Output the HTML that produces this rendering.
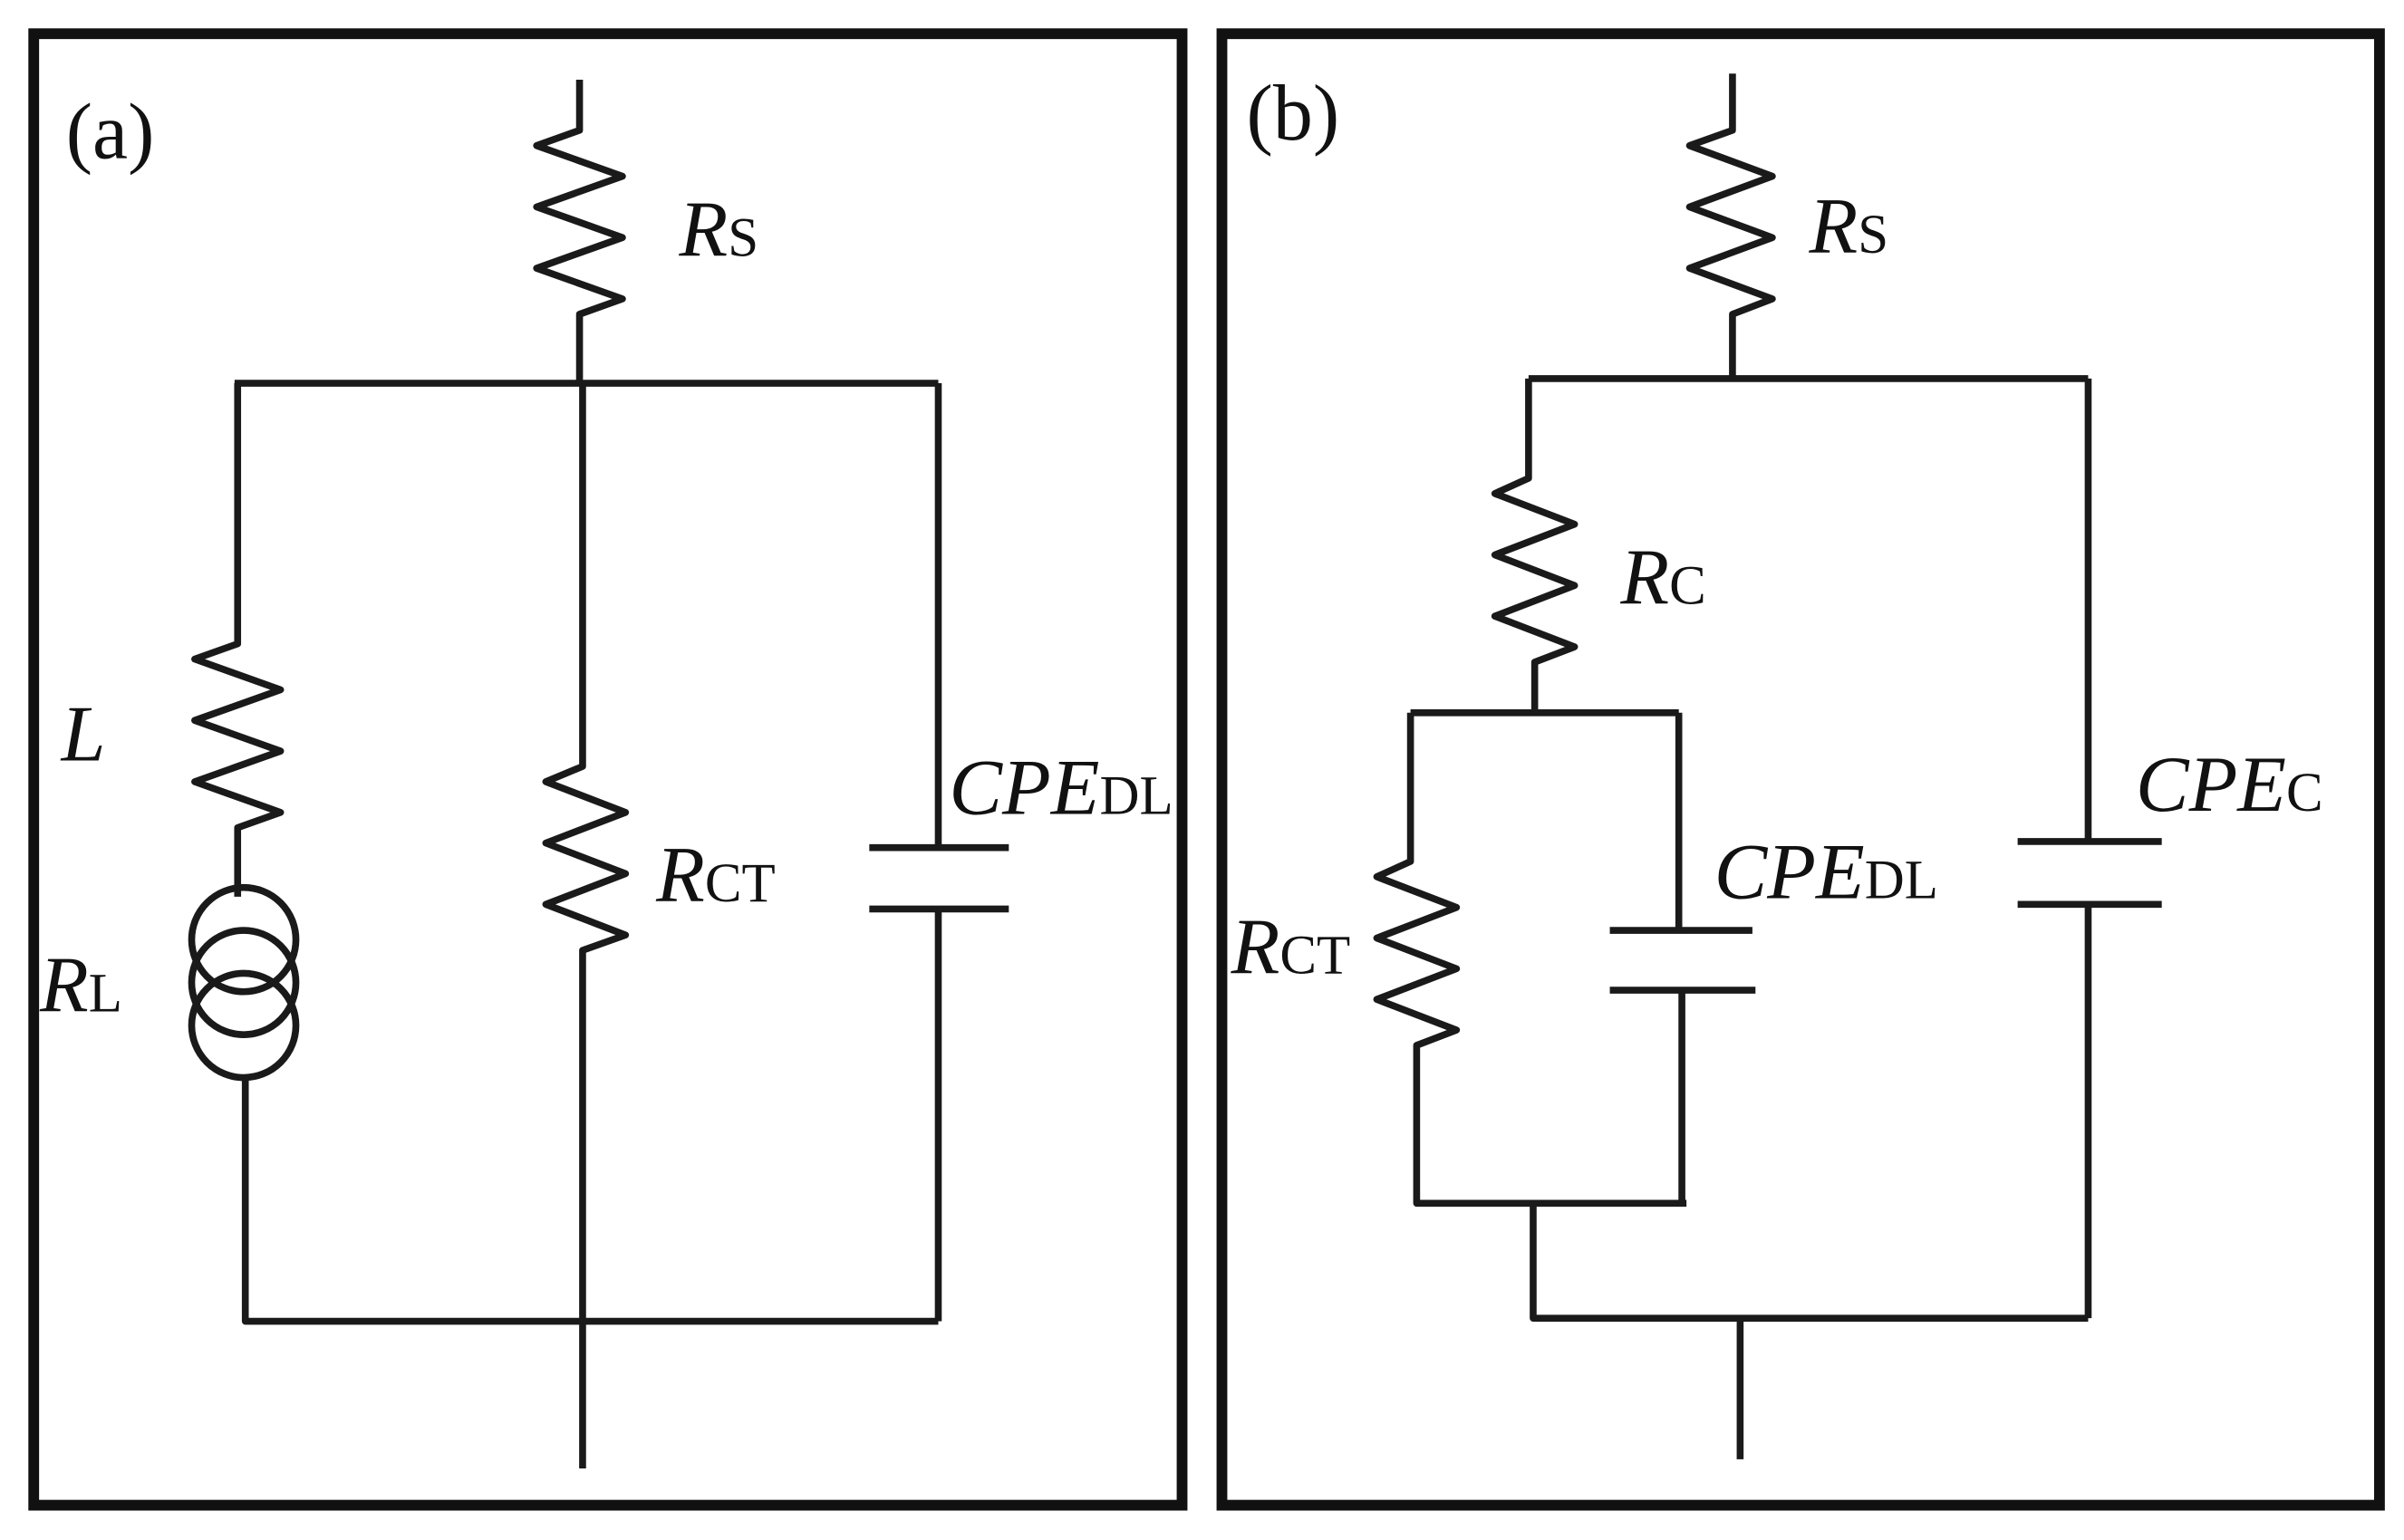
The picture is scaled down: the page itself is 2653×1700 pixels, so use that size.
<!DOCTYPE html>
<html><head><meta charset="utf-8"><style>
html,body{margin:0;padding:0;background:#fff;}
svg{display:block;}
text{font-family:"Liberation Serif",serif;fill:#111;}
.i{font-style:italic;}
</style></head><body>
<svg width="2653" height="1700" viewBox="0 0 1568 1004.7" preserveAspectRatio="none" xmlns="http://www.w3.org/2000/svg">
<g fill="none" stroke="#111" stroke-width="7">
<rect x="22" y="22" width="749" height="960"/>
<rect x="797" y="22" width="755" height="960"/>
</g>
<g fill="none" stroke="#1a1a1a" stroke-width="4.5" stroke-linejoin="round">
<path d="M378 52 V85 l-28 10 l56 20 l-56 20 l56 20 l-56 20 l56 20 l-28 10 V250"/>
<path d="M153 250 H612"/>
<path d="M155 250 V420 l-28 10 l56 20 l-56 20 l56 20 l-56 20 l56 20 l-28 10 V585"/>
<circle cx="159" cy="613" r="34"/>
<circle cx="159" cy="641" r="34"/>
<circle cx="159" cy="669" r="34"/>
<path d="M160 703 V862 H612"/>
<path d="M380 250 V500 l-24 10 l52 20 l-52 20 l52 20 l-52 20 l52 20 l-28 10 V958"/>
<path d="M612 250 V553 M567 553 H658 M567 593 H658 M612 593 V862"/>
<path d="M1130 48 V85 l-28 10 l54 20 l-54 20 l54 20 l-54 20 l54 20 l-26 10 V247"/>
<path d="M997 247 H1362"/>
<path d="M997 247 V312 l-22 10 l52 20 l-52 20 l52 20 l-52 20 l52 20 l-26 10 V465"/>
<path d="M920 465 H1095"/>
<path d="M920 465 V562 l-22 10 l52 20 l-52 20 l52 20 l-52 20 l52 20 l-26 10 V785 H1100"/>
<path d="M1095 465 V607 M1050 607 H1143 M1050 646 H1145 M1097 646 V785"/>
<path d="M1000 785 V860 H1362"/>
<path d="M1362 247 V549 M1316 549 H1410 M1316 590 H1410 M1362 590 V860"/>
<path d="M1135 860 V952"/>
</g>
<g font-size="52">
<text x="43" y="103">(a)</text>
<text x="813" y="91">(b)</text>
<text x="443" y="167"><tspan class="i">R</tspan><tspan font-size="36">S</tspan></text>
<text x="40" y="496" class="i">L</text>
<text x="26" y="660"><tspan class="i">R</tspan><tspan font-size="36">L</tspan></text>
<text x="428" y="588"><tspan class="i">R</tspan><tspan font-size="36">CT</tspan></text>
<text x="619" y="531"><tspan class="i">CPE</tspan><tspan font-size="36">DL</tspan></text>
<text x="1180" y="165"><tspan class="i">R</tspan><tspan font-size="36">S</tspan></text>
<text x="1057" y="394"><tspan class="i">R</tspan><tspan font-size="36">C</tspan></text>
<text x="1118" y="586"><tspan class="i">CPE</tspan><tspan font-size="36">DL</tspan></text>
<text x="803" y="635"><tspan class="i">R</tspan><tspan font-size="36">CT</tspan></text>
<text x="1393" y="529"><tspan class="i">CPE</tspan><tspan font-size="36">C</tspan></text>
</g>
</svg>
</body></html>
